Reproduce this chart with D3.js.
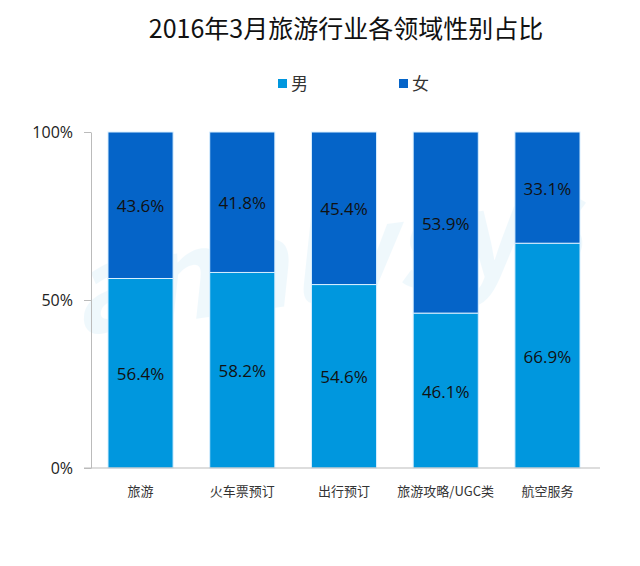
<!DOCTYPE html>
<html>
<head>
<meta charset="utf-8">
<script src="https://cdn.jsdelivr.net/npm/d3@7"></script>
<style>
  body { margin: 0; background: #fff; }
  text { font-family: "Noto Sans CJK SC", "Noto Sans", sans-serif; }
</style>
</head>
<body>
<svg id="chart" width="640" height="566"></svg>
<script>
// ---- Data ----
const categories = ["旅游", "火车票预订", "出行预订", "旅游攻略/UGC类", "航空服务"];
const male = [56.4, 58.2, 54.6, 46.1, 66.9];
const female = [43.6, 41.8, 45.4, 53.9, 33.1];
const seriesNames = ["男", "女"];
const yTicks = [0, 50, 100];

// ---- Layout ----
const margin = { left: 91, right: 43, top: 132, bottom: 98 };
const width = 640, height = 566;
const colors = { "男": "#0097de", "女": "#0564c8" };

const svg = d3.select("#chart");

const x = d3.scaleBand()
  .domain(categories)
  .range([margin.left, width - margin.right])
  .paddingInner(0.36)
  .paddingOuter(0.167);

const y = d3.scaleLinear()
  .domain([0, 100])
  .range([height - margin.bottom, margin.top]);

// ---- Title ----
svg.append("text")
  .attr("x", 346).attr("y", 38)
  .attr("text-anchor", "middle")
  .style("font-size", "25px")
  .style("fill", "#111")
  .text("2016年3月旅游行业各领域性别占比");

// ---- Legend ----
const legend = svg.append("g");
seriesNames.forEach((name, i) => {
  const lx = 278 + i * 121;
  legend.append("rect")
    .attr("x", lx).attr("y", 79)
    .attr("width", 9).attr("height", 9)
    .attr("fill", colors[name]);
  legend.append("text")
    .attr("x", lx + 13).attr("y", 90)
    .style("font-size", "17px")
    .style("fill", "#333")
    .text(name);
});

// ---- Watermark ----
svg.append("text")
  .attr("x", 330).attr("y", 300)
  .attr("text-anchor", "middle")
  .attr("transform", "rotate(-8, 330, 300)")
  .style("font-size", "120px")
  .style("font-style", "italic")
  .style("font-weight", "bold")
  .style("fill", "#0097de")
  .style("opacity", 0.06)
  .text("analysys");

// ---- Stack ----
const rows = categories.map((c, i) => ({ cat: c, "男": male[i], "女": female[i] }));
const stacked = d3.stack().keys(seriesNames)(rows);

const layers = svg.append("g").selectAll("g")
  .data(stacked)
  .join("g")
  .attr("fill", d => colors[d.key]);

layers.selectAll("rect")
  .data(d => d)
  .join("rect")
  .attr("x", d => x(d.data.cat))
  .attr("width", x.bandwidth())
  .attr("y", d => y(Math.min(d[1], 100)))
  .attr("height", d => y(d[0]) - y(Math.min(d[1], 100)))
  .attr("stroke", "#d9efff")
  .attr("stroke-width", 1);

// ---- Value labels ----
layers.selectAll("text")
  .data(d => d)
  .join("text")
  .attr("x", d => x(d.data.cat) + x.bandwidth() / 2)
  .attr("y", d => (y(d[0]) + y(Math.min(d[1], 100))) / 2 + 7)
  .attr("text-anchor", "middle")
  .style("font-size", "17px")
  .style("fill", "#111")
  .style("font-family", "'Open Sans', 'Noto Sans', sans-serif")
  .text(d => (d[1] - d[0]).toFixed(1) + "%");

// ---- Axes ----
const yAxis = svg.append("g")
  .attr("transform", `translate(${margin.left},0)`)
  .call(d3.axisLeft(y).tickValues(yTicks).tickSize(7).tickSizeOuter(0).tickFormat(d => d + "%"));
yAxis.select(".domain").attr("stroke", "#bbb");
yAxis.selectAll(".tick line").attr("stroke", "#bbb");
yAxis.selectAll(".tick text")
  .attr("x", -18)
  .style("font-size", "16px")
  .style("fill", "#222")
  .style("font-family", "'Open Sans', 'Noto Sans', sans-serif");

const xAxis = svg.append("g")
  .attr("transform", `translate(0,${height - margin.bottom})`)
  .call(d3.axisBottom(x).tickSize(0).tickPadding(19));
xAxis.select(".domain")
  .attr("stroke", "#bbb")
  .attr("d", `M${margin.left - 7},0H600`);
xAxis.selectAll(".tick text")
  .style("font-size", "13px")
  .style("fill", "#333");
</script>
</body>
</html>
